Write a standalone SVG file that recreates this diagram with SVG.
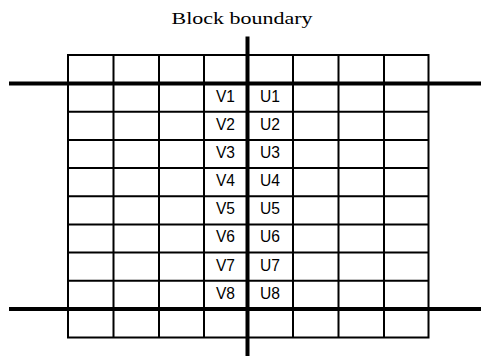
<svg xmlns="http://www.w3.org/2000/svg" width="481" height="356" viewBox="0 0 481 356">
<style>
.thin{stroke:#000;stroke-width:2;fill:none}
.thick{stroke:#000;stroke-width:4;fill:none}
.lbl{font-family:"Liberation Sans",Arial,sans-serif;font-size:17px;fill:#000;text-anchor:middle}
.title{font-family:"Liberation Serif","Times New Roman",serif;font-size:17px;fill:#000;text-anchor:middle}
</style>
<rect width="481" height="356" fill="#fff"/>
<g id="title"><text class="title" x="242" y="23.5" textLength="141" lengthAdjust="spacingAndGlyphs">Block boundary</text></g>
<g id="grid" class="thin">
<rect x="68" y="55" width="360.5" height="282.5"/>
<line x1="113.5" y1="55" x2="113.5" y2="337.5"/>
<line x1="159" y1="55" x2="159" y2="337.5"/>
<line x1="204" y1="55" x2="204" y2="337.5"/>
<line x1="293" y1="55" x2="293" y2="337.5"/>
<line x1="338.5" y1="55" x2="338.5" y2="337.5"/>
<line x1="384" y1="55" x2="384" y2="337.5"/>
<line x1="68" y1="111.7" x2="428.5" y2="111.7"/>
<line x1="68" y1="139.9" x2="428.5" y2="139.9"/>
<line x1="68" y1="168.1" x2="428.5" y2="168.1"/>
<line x1="68" y1="196.3" x2="428.5" y2="196.3"/>
<line x1="68" y1="224.4" x2="428.5" y2="224.4"/>
<line x1="68" y1="252.6" x2="428.5" y2="252.6"/>
<line x1="68" y1="280.8" x2="428.5" y2="280.8"/>
</g>
<g id="boundaries" class="thick">
<line x1="9" y1="83.5" x2="481" y2="83.5"/>
<line x1="9" y1="309" x2="481" y2="309"/>
<line x1="247.5" y1="36.5" x2="247.5" y2="356"/>
</g>
<g id="labels">
<g id="v1"><text class="lbl" x="225.5" y="101.5" textLength="19" lengthAdjust="spacingAndGlyphs">V1</text></g>
<g id="u1"><text class="lbl" x="270" y="101.5" textLength="20" lengthAdjust="spacingAndGlyphs">U1</text></g>
<g id="v2"><text class="lbl" x="225.5" y="129.7" textLength="19" lengthAdjust="spacingAndGlyphs">V2</text></g>
<g id="u2"><text class="lbl" x="270" y="129.7" textLength="20" lengthAdjust="spacingAndGlyphs">U2</text></g>
<g id="v3"><text class="lbl" x="225.5" y="157.9" textLength="19" lengthAdjust="spacingAndGlyphs">V3</text></g>
<g id="u3"><text class="lbl" x="270" y="157.9" textLength="20" lengthAdjust="spacingAndGlyphs">U3</text></g>
<g id="v4"><text class="lbl" x="225.5" y="186.1" textLength="19" lengthAdjust="spacingAndGlyphs">V4</text></g>
<g id="u4"><text class="lbl" x="270" y="186.1" textLength="20" lengthAdjust="spacingAndGlyphs">U4</text></g>
<g id="v5"><text class="lbl" x="225.5" y="214.3" textLength="19" lengthAdjust="spacingAndGlyphs">V5</text></g>
<g id="u5"><text class="lbl" x="270" y="214.3" textLength="20" lengthAdjust="spacingAndGlyphs">U5</text></g>
<g id="v6"><text class="lbl" x="225.5" y="242.4" textLength="19" lengthAdjust="spacingAndGlyphs">V6</text></g>
<g id="u6"><text class="lbl" x="270" y="242.4" textLength="20" lengthAdjust="spacingAndGlyphs">U6</text></g>
<g id="v7"><text class="lbl" x="225.5" y="270.6" textLength="19" lengthAdjust="spacingAndGlyphs">V7</text></g>
<g id="u7"><text class="lbl" x="270" y="270.6" textLength="20" lengthAdjust="spacingAndGlyphs">U7</text></g>
<g id="v8"><text class="lbl" x="225.5" y="298.8" textLength="19" lengthAdjust="spacingAndGlyphs">V8</text></g>
<g id="u8"><text class="lbl" x="270" y="298.8" textLength="20" lengthAdjust="spacingAndGlyphs">U8</text></g>
</g>
</svg>
